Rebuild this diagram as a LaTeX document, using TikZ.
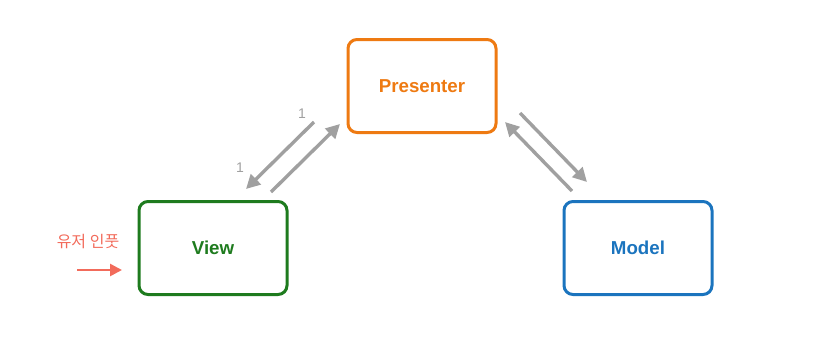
\documentclass[tikz,border=0pt]{standalone}
\usepackage{fontspec}
\setmainfont{Liberation Sans}
\newfontfamily\krfont{Noto Sans CJK KR}
\usetikzlibrary{arrows.meta}
\definecolor{corange}{HTML}{EE7A12}
\definecolor{cgreen}{HTML}{1E7B1E}
\definecolor{cblue}{HTML}{1B74BE}
\definecolor{cgray}{HTML}{A0A0A0}
\definecolor{cred}{HTML}{F26B5B}
\tikzset{
  box/.style={draw=#1, text=#1, line width=3pt, rounded corners=9pt,
    minimum width=148pt, minimum height=93pt, font=\bfseries\fontsize{18.7}{22}\selectfont},
  conn/.style={draw=cgray, line width=3.4pt, -{Triangle[length=14pt,width=14pt]}},
  lbl/.style={text=cgray, font=\fontsize{14}{16}\selectfont},
}
\begin{document}
\begin{tikzpicture}[x=1pt,y=-1pt]
\useasboundingbox (0,0) rectangle (828,338);
\node[box=corange] (P) at (422,86) {Presenter};
\node[box=cgreen] (V) at (213,248) {View};
\node[box=cblue] (M) at (638,248) {Model};
% left pair
\coordinate (a1) at (314,122); \coordinate (a2) at (246,189);
\coordinate (b1) at (271,192); \coordinate (b2) at (340,124);
\draw[conn] (a1) -- (a2);
\draw[conn] (b1) -- (b2);
\node[lbl] (l1) at (302,114) {1};
\node[lbl] (l2) at (240,168) {1};
% right pair
\coordinate (c1) at (520,113); \coordinate (c2) at (587,182);
\coordinate (d1) at (572,191); \coordinate (d2) at (505,122);
\draw[conn] (c1) -- (c2);
\draw[conn] (d1) -- (d2);
% user input
\node[text=cred, font=\krfont\fontsize{16}{18}\selectfont] (u) at (88,242) {유저 인풋};
\coordinate (e1) at (77,270);
\coordinate (e2) at (122,270);
\draw[draw=cred, line width=2.6pt, -{Triangle[length=12pt,width=12pt]}] (e1) -- (e2);
\end{tikzpicture}
\end{document}
